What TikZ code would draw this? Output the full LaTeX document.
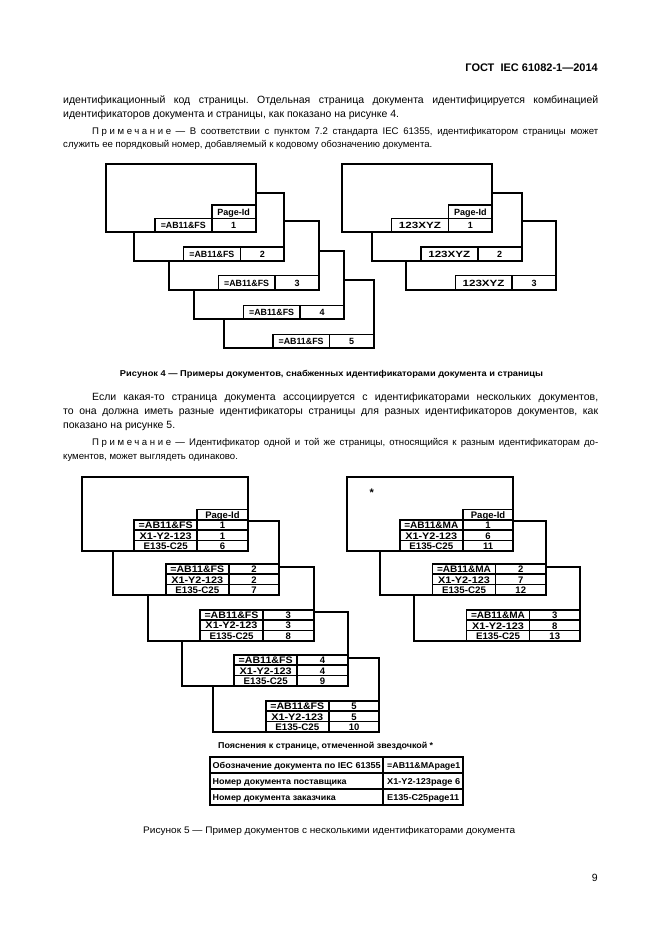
\documentclass[tikz,border=0pt]{standalone}
\usepackage{fontspec}
\setmainfont{Liberation Sans}
\newfontfamily\spacedfont[LetterSpace=27]{Liberation Sans}
\usepackage{graphicx}
\frenchspacing
\newcommand\fitw[2]{\resizebox{#1}{\height}{#2}}
\newcommand\fourfont{\bfseries\fontsize{9}{10}\selectfont}
\newcommand\fivefont{\bfseries\fontsize{9.5}{10}\selectfont}
\newcommand\bodyfont{\fontsize{10.5}{13}\selectfont}
\newcommand\notefont{\fontsize{9.6}{11}\selectfont}
\tikzset{
  boxline/.style={line width=2pt},
  cellline/.style={line width=1.6pt},
  txt/.style={inner sep=0pt, anchor=base west},
  ctxt/.style={inner sep=0pt, anchor=base},
}
% figure 4 page: name, x, y, label, label width, number
\newcommand\fourbox[6]{%
  \draw[boxline,fill=white] (#2,#3) rectangle ++(150,68.3);
  \draw[cellline] (#2+49.3,#3+54.3) rectangle (#2+150,#3+68.3);
  \draw[cellline] (#2+106,#3+54.3) -- (#2+106,#3+68.3);
  \node[ctxt] (#1l) at (#2+77.6,#3+64.7) {\fitw{#5}{\fourfont #4}};
  \node[ctxt] (#1n) at (#2+128,#3+64.7) {\fourfont #6};
}
% figure 5 page: name, x, y, label, n1, n2, n3
\newcommand\fivebox[7]{%
  \draw[boxline,fill=white] (#2,#3) rectangle ++(166,74);
  \draw[cellline] (#2+52.5,#3+43.3) rectangle (#2+166,#3+74);
  \draw[cellline] (#2+115.5,#3+43.3) -- (#2+115.5,#3+74);
  \draw[cellline] (#2+52.5,#3+53.5) -- (#2+166,#3+53.5);
  \draw[cellline] (#2+52.5,#3+63.8) -- (#2+166,#3+63.8);
  \node[ctxt] (#1a) at (#2+84,#3+52) {\fitw{54pt}{\fivefont #4}};
  \node[ctxt] (#1b) at (#2+140.75,#3+52) {\fivefont #5};
  \node[ctxt] (#1c) at (#2+84,#3+62.3) {\fitw{52pt}{\fivefont X1-Y2-123}};
  \node[ctxt] (#1d) at (#2+140.75,#3+62.3) {\fivefont #6};
  \node[ctxt] (#1e) at (#2+84,#3+72.5) {\fitw{44pt}{\fivefont E135-C25}};
  \node[ctxt] (#1f) at (#2+140.75,#3+72.5) {\fivefont #7};
}
\begin{document}
\begin{tikzpicture}[x=1pt,y=-1pt]
\fill[white] (0,0) rectangle (661,935);
\useasboundingbox (0,0) rectangle (661,935);

% header
\node[inner sep=0pt, anchor=base east] (hdr) at (598,71) {\bfseries\fontsize{11}{13}\selectfont ГОСТ\ \ IEC 61082-1—2014};

% paragraph 1
\node[txt] (p1a) at (63,103) {\bodyfont\makebox[535pt][s]{идентификационный код страницы. Отдельная страница документа идентифицируется комбинацией}};
\node[txt] (p1b) at (63,117) {\bodyfont идентификаторов документа и страницы, как показано на рисунке 4.};
\node[txt] (n1a) at (92,134) {\notefont\makebox[506pt][s]{{\spacedfont\notefont Примечание} — В соответствии с пунктом 7.2 стандарта IEC 61355, идентификатором страницы может}};
\node[txt] (n1b) at (63,147) {\notefont служить ее порядковый номер, добавляемый к кодовому обозначению документа.};

% figure 4 left
\fourbox{fa5}{223.5}{280}{=AB11\&FS}{45pt}{5}
\fourbox{fa4}{194}{251}{=AB11\&FS}{45pt}{4}
\fourbox{fa3}{169}{221.3}{=AB11\&FS}{45pt}{3}
\fourbox{fa2}{134.3}{192.7}{=AB11\&FS}{45pt}{2}
\fourbox{fa1}{105.7}{164}{=AB11\&FS}{45pt}{1}
\draw[cellline] (105.7+106,164+41) rectangle (105.7+150,164+54.3);
\node[ctxt] (fapid) at (105.7+128,164+51) {\fourfont Page-Id};

% figure 4 right
\fourbox{fb3}{406}{221.3}{123XYZ}{42pt}{3}
\fourbox{fb2}{371.7}{192.7}{123XYZ}{42pt}{2}
\fourbox{fb1}{342.3}{164}{123XYZ}{42pt}{1}
\draw[cellline] (342.3+106,164+41) rectangle (342.3+150,164+54.3);
\node[ctxt] (fbpid) at (342.3+128,164+51) {\fourfont Page-Id};

% caption 4
\node[ctxt] (cap4) at (331.5,376) {\fitw{423pt}{\bfseries\fontsize{8.5}{10}\selectfont Рисунок 4 — Примеры документов, снабженных идентификаторами документа и страницы}};

% paragraph 2
\node[txt] (p2a) at (92,400) {\bodyfont\makebox[506pt][s]{Если какая-то страница документа ассоциируется с идентификаторами нескольких документов,}};
\node[txt] (p2b) at (63,414) {\bodyfont\makebox[535pt][s]{то она должна иметь разные идентификаторы страницы для разных идентификаторов документов, как}};
\node[txt] (p2c) at (63,428) {\bodyfont показано на рисунке 5.};
\node[txt] (n2a) at (92,445) {\notefont\makebox[506pt][s]{{\spacedfont\notefont Примечание} — Идентификатор одной и той же страницы, относящийся к разным идентификаторам до-}};
\node[txt] (n2b) at (63,459) {\notefont кументов, может выглядеть одинаково.};

% figure 5 left
\fivebox{ga5}{213.3}{657.7}{=AB11\&FS}{5}{5}{10}
\fivebox{ga4}{181.7}{611.7}{=AB11\&FS}{4}{4}{9}
\fivebox{ga3}{147.5}{566.5}{=AB11\&FS}{3}{3}{8}
\fivebox{ga2}{113.3}{520.7}{=AB11\&FS}{2}{2}{7}
\fivebox{ga1}{81.7}{476.7}{=AB11\&FS}{1}{1}{6}
\draw[cellline] (81.7+115.5,476.7+32.6) rectangle (81.7+166,476.7+43.3);
\node[ctxt] (gapid) at (81.7+140.75,476.7+41.6) {\fivefont Page-Id};

% figure 5 right
\fivebox{gb3}{414}{566.7}{=AB11\&MA}{3}{8}{13}
\fivebox{gb2}{380}{520.7}{=AB11\&MA}{2}{7}{12}
\fivebox{gb1}{347.3}{476.7}{=AB11\&MA}{1}{6}{11}
\draw[cellline] (347.3+115.5,476.7+32.6) rectangle (347.3+166,476.7+43.3);
\node[ctxt] (gbpid) at (347.3+140.75,476.7+41.6) {\fivefont Page-Id};
\node[ctxt] (star) at (371.7,496) {\bfseries\fontsize{11}{12}\selectfont *};

% explanation table
\node[txt] (ttl) at (218,748) {\fitw{215pt}{\bfseries\fontsize{8.5}{10}\selectfont Пояснения к странице, отмеченной звездочкой *}};
\draw[boxline] (210,757) rectangle (463,805);
\draw[cellline] (210,773) -- (463,773);
\draw[cellline] (210,789) -- (463,789);
\draw[cellline] (383,757) -- (383,805);
\node[txt] (t1a) at (212.5,768.5) {\fitw{168pt}{\bfseries\fontsize{8.5}{10}\selectfont Обозначение документа по IEC 61355}};
\node[txt] (t2a) at (212.5,784.5) {\fitw{134pt}{\bfseries\fontsize{8.5}{10}\selectfont Номер документа поставщика}};
\node[txt] (t3a) at (212.5,800.5) {\fitw{123pt}{\bfseries\fontsize{8.5}{10}\selectfont Номер документа заказчика}};
\node[txt] (t1b) at (387,768.5) {\fitw{73pt}{\bfseries\fontsize{8.5}{10}\selectfont =AB11\&MApage1}};
\node[txt] (t2b) at (387,784.5) {\fitw{73pt}{\bfseries\fontsize{8.5}{10}\selectfont X1-Y2-123page 6}};
\node[txt] (t3b) at (387,800.5) {\fitw{72pt}{\bfseries\fontsize{8.5}{10}\selectfont E135-C25page11}};

% caption 5
\node[txt] (cap5) at (143,833) {\fitw{372pt}{\fontsize{9.5}{11}\selectfont Рисунок 5 — Пример документов с несколькими идентификаторами документа}};

% page number
\node[inner sep=0pt, anchor=base east] (pg) at (598,881) {\fontsize{10.5}{12}\selectfont 9};
\end{tikzpicture}
\end{document}
